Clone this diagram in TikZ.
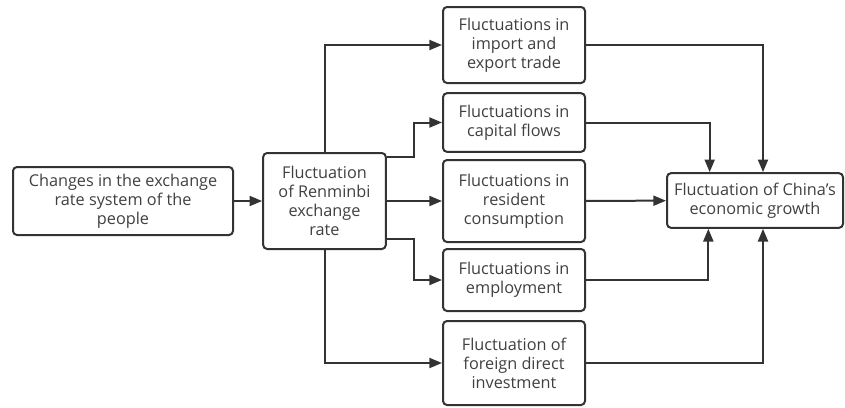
\documentclass[tikz,border=0pt]{standalone}
\usepackage{fontspec}
\setmainfont{Open Sans}
\usetikzlibrary{arrows.meta}
\usetikzlibrary{positioning}
\definecolor{linegray}{HTML}{333333}
\definecolor{textgray}{HTML}{404040}

\begin{document}
\begin{tikzpicture}[x=0.75pt,y=-0.75pt]
\useasboundingbox (0,0) rectangle (845,407);
\begin{scope}[every node/.style={draw=linegray,line width=1.5pt,rounded corners=3pt,
      align=center,inner sep=2pt,text=textgray,font=\fontsize{12.2}{14.25}\selectfont}]
    \node[minimum width=165pt,minimum height=51pt] (sys) at (123,201) {Changes in the exchange\\rate system of the\\people};
    \node[minimum width=92pt,minimum height=72pt] (rmb) at (324.5,201) {Fluctuation\\of Renminbi\\exchange\\rate};
    \node[minimum width=106.5pt,minimum height=57pt] (trade) at (514,45) {Fluctuations in\\import and\\export trade};
    \node[minimum width=106.5pt,minimum height=44pt] (capital) at (514,122.5) {Fluctuations in\\capital flows};
    \node[minimum width=106.5pt,minimum height=61.5pt] (consume) at (514,201) {Fluctuations in\\resident\\consumption};
    \node[minimum width=106.5pt,minimum height=46.5pt] (employ) at (514,280) {Fluctuations in\\employment};
    \node[minimum width=106.5pt,minimum height=63pt] (fdi) at (514,363) {Fluctuation of\\foreign direct\\investment};
    \node[minimum width=132pt,minimum height=41pt] (growth) at (755,200.5) {Fluctuation of China{\char"0027}s\\economic growth};
\end{scope}

\begin{scope}[>={Triangle[length=9.5pt,width=7.5pt]},
              every path/.style={draw=linegray,fill=none,line width=1.5pt}]
    \draw [->] (sys) -- (rmb);
    \draw [->] (rmb.north) |- (trade.west);
    \draw [->] ([yshift=-3.75pt]rmb.north east) -| ([xshift=-21pt]capital.west) -- (capital.west);
    \draw [->] (rmb) -- (consume);
    \draw [->] ([yshift=8pt]rmb.south east) -| ([xshift=-21pt]employ.west) -- (employ.west);
    \draw [->] (rmb.south) |- (fdi.west);
    \draw [->] (trade.east) -| ([xshift=6pt]growth.north);
    \draw [->] (capital.east) -| ([xshift=-34pt]growth.north);
    \draw [->] (consume) -- (growth);
    \draw [->] (employ.east) -| ([xshift=-35pt]growth.south);
    \draw [->] (fdi.east) -| ([xshift=6pt]growth.south);
\end{scope}
\end{tikzpicture}
\end{document}
